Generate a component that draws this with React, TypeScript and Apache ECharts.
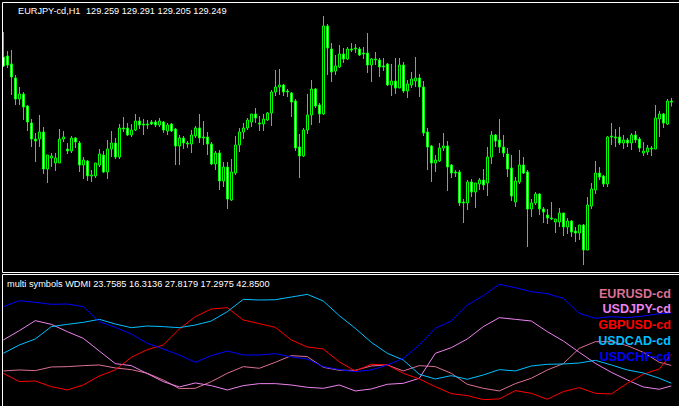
import React, { useEffect, useRef } from "react";
import * as echarts from "echarts";

const symbolTitle = "EURJPY-cd,H1";
const ohlcLabel = "129.259 129.291 129.205 129.249";
const indicatorLabel = "multi symbols WDMI 23.7585 16.3136 27.8179 17.2975 42.8500";

const opens = [
  129.70, 129.71, 129.63, 129.49, 129.28, 129.33, 129.21, 129.04, 128.88, 128.88,
  128.95, 128.58, 128.69, 128.64, 128.64, 128.88, 128.78, 128.76, 128.89, 128.84,
  128.62, 128.66, 128.51, 128.51, 128.62, 128.72, 128.55, 128.78, 128.84, 128.70,
  128.99, 128.99, 128.92, 128.97, 129.06, 129.03, 129.03, 129.05, 129.05, 129.02,
  129.05, 128.96, 129.03, 128.98, 128.81, 128.89, 128.84, 128.83, 128.91, 128.99,
  128.90, 128.90, 128.83, 128.63, 128.74, 128.46, 128.60, 128.27, 128.54, 128.82,
  128.95, 128.99, 129.05, 129.13, 129.04, 129.03, 129.07, 129.14, 129.35, 129.40,
  129.42, 129.36, 129.34, 129.26, 128.80, 128.71, 128.97, 129.12, 129.38, 129.22,
  129.13, 130.01, 129.78, 129.56, 129.60, 129.73, 129.68, 129.78, 129.79, 129.78,
  129.74, 129.74, 129.62, 129.68, 129.67, 129.61, 129.63, 129.42, 129.46, 129.39,
  129.62, 129.36, 129.42, 129.46, 129.49, 129.40, 128.95, 128.81, 128.64, 128.66,
  128.79, 128.81, 128.62, 128.55, 128.55, 128.25, 128.24, 128.45, 128.35, 128.43,
  128.47, 128.44, 128.70, 128.92, 128.87, 128.80, 128.73, 128.59, 128.25, 128.45,
  128.62, 128.55, 128.18, 128.24, 128.33, 128.18, 128.12, 128.09, 128.05, 128.05,
  128.14, 128.00, 128.06, 127.96, 127.94, 128.02, 127.77, 128.21, 128.37, 128.54,
  128.51, 128.43, 128.91, 128.90, 128.90, 128.84, 128.87, 128.84, 128.92, 128.88,
  128.74, 128.75, 128.79, 128.78, 129.08, 129.13, 129.03, 129.259,
];

const closes = [
  129.61, 129.62, 129.50, 129.28, 129.33, 129.20, 129.05, 128.88, 128.86, 128.95,
  128.58, 128.72, 128.71, 128.69, 128.88, 128.90, 128.76, 128.89, 128.85, 128.62,
  128.67, 128.51, 128.52, 128.64, 128.73, 128.55, 128.78, 128.84, 128.70, 128.99,
  128.98, 128.92, 128.97, 129.06, 129.02, 129.02, 129.02, 129.03, 129.02, 129.06,
  128.97, 129.02, 128.96, 128.81, 128.89, 128.84, 128.83, 128.92, 128.99, 128.89,
  128.89, 128.83, 128.63, 128.74, 128.46, 128.60, 128.28, 128.55, 128.82, 128.95,
  128.99, 129.07, 129.13, 129.09, 129.03, 129.08, 129.14, 129.35, 129.40, 129.42,
  129.35, 129.35, 129.25, 128.79, 128.71, 128.97, 129.12, 129.38, 129.21, 129.13,
  130.01, 129.79, 129.55, 129.61, 129.73, 129.68, 129.78, 129.77, 129.78, 129.72,
  129.73, 129.62, 129.68, 129.67, 129.60, 129.60, 129.42, 129.46, 129.39, 129.62,
  129.36, 129.43, 129.48, 129.49, 129.40, 128.94, 128.80, 128.64, 128.67, 128.79,
  128.81, 128.60, 128.54, 128.54, 128.24, 128.24, 128.45, 128.35, 128.44, 128.47,
  128.42, 128.70, 128.92, 128.86, 128.80, 128.74, 128.58, 128.31, 128.46, 128.62,
  128.54, 128.18, 128.24, 128.33, 128.18, 128.15, 128.09, 128.08, 128.08, 128.14,
  128.00, 128.06, 127.95, 127.94, 128.02, 127.77, 128.22, 128.38, 128.54, 128.50,
  128.43, 128.90, 128.90, 128.89, 128.84, 128.87, 128.84, 128.92, 128.87, 128.79,
  128.76, 128.79, 128.78, 129.09, 129.13, 129.04, 129.26, 129.249,
];

const lows = [
  129.60, 129.59, 129.32, 129.22, 129.22, 129.07, 128.96, 128.80, 128.65, 128.80,
  128.53, 128.44, 128.60, 128.56, 128.64, 128.85, 128.73, 128.74, 128.79, 128.55,
  128.48, 128.46, 128.45, 128.49, 128.60, 128.54, 128.48, 128.70, 128.68, 128.68,
  128.95, 128.91, 128.90, 128.96, 128.98, 128.92, 128.98, 129.02, 129.00, 129.00,
  128.94, 128.92, 128.95, 128.62, 128.62, 128.78, 128.79, 128.74, 128.89, 128.84,
  128.82, 128.72, 128.62, 128.57, 128.37, 128.40, 128.18, 128.26, 128.52, 128.75,
  128.88, 128.97, 129.00, 129.04, 128.96, 128.96, 129.06, 129.01, 129.31, 129.32,
  129.31, 129.30, 129.10, 128.76, 128.49, 128.70, 128.93, 129.02, 129.19, 129.04,
  129.12, 129.52, 129.45, 129.52, 129.59, 129.64, 129.67, 129.75, 129.74, 129.71,
  129.68, 129.54, 129.45, 129.62, 129.50, 129.56, 129.41, 129.31, 129.33, 129.39,
  129.34, 129.29, 129.39, 129.40, 129.30, 128.91, 128.57, 128.45, 128.55, 128.65,
  128.76, 128.36, 128.49, 128.50, 128.21, 128.04, 128.17, 128.30, 128.19, 128.37,
  128.37, 128.31, 128.63, 128.80, 128.74, 128.70, 128.50, 128.26, 128.20, 128.43,
  128.53, 127.80, 128.10, 128.22, 128.12, 128.04, 128.03, 128.07, 127.94, 128.00,
  127.91, 127.93, 127.90, 127.85, 127.87, 127.62, 127.77, 128.18, 128.33, 128.47,
  128.40, 128.40, 128.82, 128.80, 128.82, 128.78, 128.80, 128.77, 128.84, 128.75,
  128.71, 128.72, 128.71, 128.78, 128.90, 128.99, 129.02, 129.205,
];

const highs = [
  129.95, 129.76, 129.77, 129.52, 129.40, 129.35, 129.22, 129.08, 128.94, 129.12,
  129.00, 128.72, 128.74, 128.74, 128.98, 128.96, 128.84, 128.91, 128.90, 128.86,
  128.70, 128.67, 128.57, 128.64, 128.78, 128.76, 128.87, 128.96, 128.89, 129.03,
  129.10, 129.04, 129.03, 129.13, 129.10, 129.08, 129.07, 129.07, 129.07, 129.09,
  129.06, 129.04, 129.04, 128.99, 128.92, 128.91, 128.86, 128.97, 129.01, 129.13,
  129.06, 128.95, 128.85, 128.76, 128.77, 128.65, 128.65, 128.68, 128.91, 128.99,
  129.04, 129.09, 129.13, 129.19, 129.11, 129.13, 129.15, 129.37, 129.57, 129.58,
  129.43, 129.38, 129.35, 129.28, 128.93, 128.99, 129.33, 129.47, 129.39, 129.24,
  130.11, 130.03, 129.84, 129.72, 129.82, 129.79, 129.80, 129.84, 129.83, 129.80,
  129.80, 129.94, 129.69, 129.75, 129.69, 129.69, 129.64, 129.63, 129.69, 129.69,
  129.65, 129.47, 129.55, 129.70, 129.53, 129.46, 128.99, 128.82, 128.72, 128.84,
  128.94, 128.86, 128.63, 128.57, 128.57, 128.28, 128.47, 128.48, 128.44, 128.49,
  128.58, 128.80, 128.96, 128.93, 129.08, 128.92, 128.79, 128.72, 128.50, 128.77,
  128.70, 128.57, 128.28, 128.35, 128.34, 128.20, 128.18, 128.25, 128.08, 128.19,
  128.14, 128.09, 128.07, 128.00, 128.02, 128.03, 128.30, 128.44, 128.66, 128.60,
  128.52, 128.91, 129.04, 128.98, 129.00, 128.92, 128.89, 128.94, 128.96, 128.90,
  128.85, 128.82, 128.81, 129.22, 129.16, 129.14, 129.28, 129.291,
];

// indicator samples (bar index -> value)
const sampleBars = [
  0, 4, 8, 12, 16, 20, 24, 28, 32, 36, 40, 44, 48, 52, 56, 60, 64, 68, 72, 76, 80, 84,
  88, 92, 96, 100, 104, 108, 112, 116, 120, 124, 128, 132, 136, 140, 144, 148, 152, 156, 160, 164, 167,
];

const eurusd = [
  21.75, 22.11, 21.87, 23.2, 23.32, 23.68, 23.93, 22.84, 22.23, 20.9, 18.47, 15.32, 15.44, 17.87, 20.9, 23.32, 22.72, 24.9, 27.32, 26.96, 23.08, 21.99,
  21.99, 23.56, 23.93, 21.75, 23.68, 23.32, 20.9, 16.9, 15.44, 14.47, 17.14, 19.08, 22.11, 24.41, 29.99, 32.41, 32.41, 30.96, 28.53, 24.9, 23.7585,
];
const usdjpy = [
  33.02, 36.41, 40.05, 38.72, 36.05, 33.62, 29.02, 24.41, 23.68, 20.78, 17.87, 15.93, 17.38, 16.41, 14.84, 16.41, 17.14, 17.14, 16.65, 15.81, 15.44, 16.65,
  14.47, 15.2, 16.9, 17.26, 19.08, 28.17, 30.23, 33.38, 37.87, 41.14, 40.53, 39.93, 36.05, 32.65, 28.53, 24.53, 21.26, 18.47, 15.93, 15.08, 16.3136,
];
const gbpusd = [
  20.9, 17.87, 18.11, 16.05, 14.84, 16.65, 19.93, 22.11, 26.72, 29.5, 31.2, 37.02, 41.5, 44.29, 44.78, 40.29, 38.96, 37.62, 33.02, 30.47, 29.75, 25.02,
  21.75, 24.17, 23.93, 20.9, 18.84, 16.05, 13.5, 12.78, 11.32, 11.56, 14.59, 13.62, 11.44, 14.23, 15.68, 13.62, 13.38, 17.26, 20.53, 22.47, 27.8179,
];
const usdcad = [
  28.17, 31.2, 33.38, 37.87, 38.72, 39.44, 40.53, 38.84, 37.5, 38.11, 37.87, 37.5, 38.47, 39.93, 43.32, 47.81, 47.56, 47.68, 48.65, 49.62, 47.2, 41.87,
  37.26, 32.17, 28.17, 25.75, 20.53, 18.84, 20.05, 18.72, 20.29, 22.23, 21.75, 23.56, 24.17, 24.29, 24.65, 25.62, 23.93, 22.11, 21.02, 19.08, 17.2975,
];
const usdchf = [
  45.14, 47.32, 46.72, 45.99, 46.11, 45.14, 39.68, 37.62, 35.2, 31.81, 29.75, 27.56, 24.9, 27.32, 29.02, 27.56, 27.56, 28.05, 26.84, 26.11, 23.32, 22.23,
  21.5, 22.11, 23.93, 26.35, 31.2, 37.26, 39.93, 45.75, 49.14, 53.26, 52.05, 50.59, 49.87, 48.17, 42.72, 40.9, 41.5, 41.14, 41.75, 42.59, 42.85,
];

const symbolNames = ["EURUSD-cd", "USDJPY-cd", "GBPUSD-cd", "USDCAD-cd", "USDCHF-cd"];
const symbolColors = ["#db7093", "#ee82ee", "#ff0000", "#00bfff", "#0000ff"];

export default function App() {
  const ref = useRef<HTMLDivElement>(null);

  useEffect(() => {
    if (!ref.current) return;
    const chart = echarts.init(ref.current, null, { renderer: "svg" });
    const categories = opens.map((_, i) => String(i));
    const candles = opens.map((o, i) => [o, closes[i], lows[i], highs[i]]);
    const lineSets = [eurusd, usdjpy, gbpusd, usdcad, usdchf];
    const smallFont = '9.2px "Liberation Sans", Arial, sans-serif';
    const labelFont = 'bold 12.6px "Liberation Sans", Arial, sans-serif';

    const border = (x1: number, y1: number, x2: number, y2: number) => ({
      type: "line",
      shape: { x1, y1, x2, y2 },
      style: { stroke: "#ffffff", lineWidth: 1 },
      z: 100,
      silent: true,
    });

    chart.setOption({
      animation: false,
      backgroundColor: "#000000",
      grid: [
        { left: 1.3, top: 3, width: 672, height: 268 },
        { left: 1.3, top: 276, width: 672, height: 130 },
      ],
      xAxis: [
        { type: "category", data: categories, gridIndex: 0, show: false, boundaryGap: true },
        { type: "value", gridIndex: 1, min: -0.5, max: 167.5, show: false },
      ],
      yAxis: [
        { type: "value", gridIndex: 0, min: 127.56, max: 130.24, show: false },
        { type: "value", gridIndex: 1, min: 9, max: 56.3, show: false },
      ],
      series: [
        {
          type: "candlestick",
          xAxisIndex: 0,
          yAxisIndex: 0,
          data: candles,
          barWidth: 2,
          silent: true,
          itemStyle: {
            color: "#000000",
            color0: "#ffffff",
            borderColor: "#00ff00",
            borderColor0: "#00ff00",
            borderColorDoji: "#00ff00",
            borderWidth: 1,
          },
        },
        ...lineSets.map((vals, s) => ({
          type: "line",
          name: symbolNames[s],
          xAxisIndex: 1,
          yAxisIndex: 1,
          data: sampleBars.map((b, i) => [b, vals[i]]),
          symbol: "none",
          showSymbol: false,
          silent: true,
          lineStyle: { color: symbolColors[s], width: 1 },
        })),
      ],
      graphic: [
        border(2.5, 2.5, 679, 2.5),
        border(2.5, 2.5, 2.5, 272.5),
        border(2.5, 272.5, 679, 272.5),
        border(2.5, 274.5, 679, 274.5),
        border(2.5, 274.5, 2.5, 406),
        {
          type: "text",
          x: 18,
          y: 11,
          z: 100,
          style: { text: symbolTitle, fill: "#ffffff", font: smallFont, verticalAlign: "middle" },
        },
        {
          type: "text",
          x: 86,
          y: 11,
          z: 100,
          style: { text: ohlcLabel, fill: "#ffffff", font: smallFont, verticalAlign: "middle" },
        },
        {
          type: "text",
          x: 7,
          y: 283.5,
          z: 100,
          style: { text: indicatorLabel, fill: "#ffffff", font: smallFont, verticalAlign: "middle" },
        },
        ...symbolNames.map((name, s) => ({
          type: "text",
          x: 671,
          y: 293.5 + s * 15.85,
          z: 100,
          style: {
            text: name,
            fill: symbolColors[s],
            font: labelFont,
            align: "right",
            verticalAlign: "middle",
          },
        })),
      ],
    });

    return () => chart.dispose();
  }, []);

  return (
    <div
      ref={ref}
      style={{ position: "fixed", left: 0, top: 0, width: 679, height: 406, background: "#000000" }}
    />
  );
}
